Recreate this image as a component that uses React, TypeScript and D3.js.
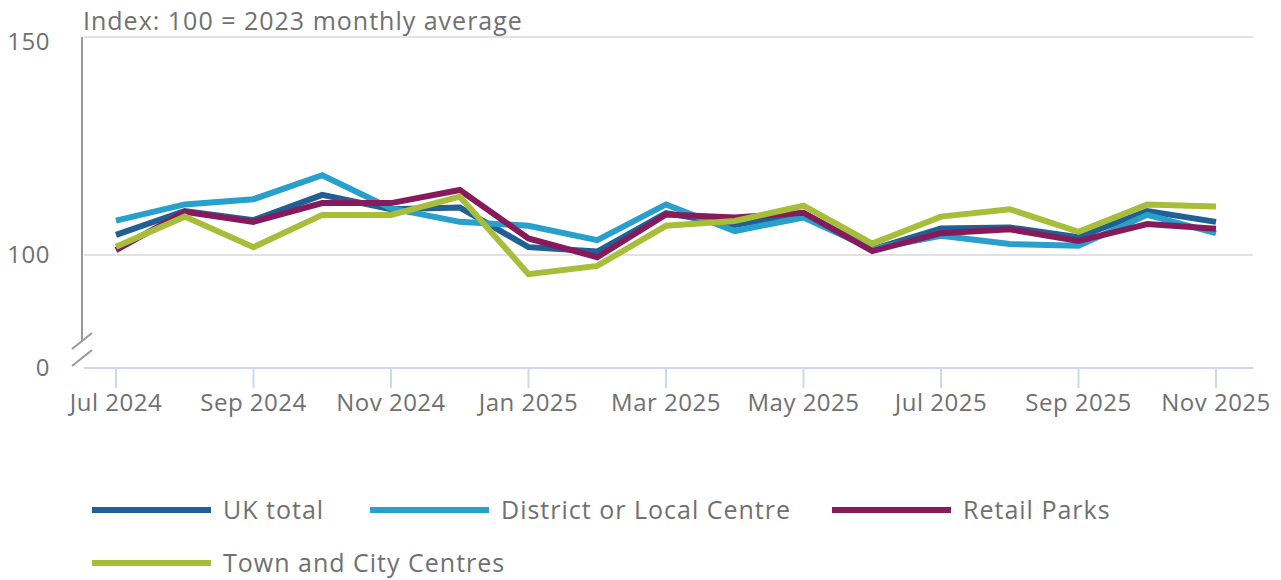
import React, { useEffect, useRef } from "react";
import * as d3 from "d3";

const months = [
  "Jul 2024", "Aug 2024", "Sep 2024", "Oct 2024", "Nov 2024", "Dec 2024",
  "Jan 2025", "Feb 2025", "Mar 2025", "Apr 2025", "May 2025", "Jun 2025",
  "Jul 2025", "Aug 2025", "Sep 2025", "Oct 2025", "Nov 2025",
];
const tickMonths = months.filter((_, i) => i % 2 === 0);

const ukTotal = [104.6, 110.1, 108.0, 113.8, 110.5, 110.9, 101.8, 100.8, 109.6, 106.9, 109.6, 101.3, 106.1, 106.3, 104.1, 110.1, 107.6];
const districtCentre = [107.9, 111.6, 112.8, 118.3, 110.7, 107.6, 106.7, 103.4, 111.6, 105.5, 108.6, 101.4, 104.4, 102.5, 102.1, 109.2, 105.0];
const retailParks = [101.1, 109.9, 107.6, 111.9, 111.9, 114.9, 103.8, 99.5, 109.3, 108.6, 109.7, 100.9, 105.0, 105.9, 103.2, 107.1, 106.0];
const townCentres = [101.9, 108.8, 101.8, 109.2, 109.2, 113.4, 95.6, 97.5, 106.7, 107.8, 111.3, 102.6, 108.8, 110.5, 105.3, 111.6, 111.1];

const seriesNames = ["UK total", "District or Local Centre", "Retail Parks", "Town and City Centres"];
const seriesColors = ["#206095", "#27a0cc", "#871a5b", "#a8bd3a"];
const gridTicks = [100, 150];

const W = 1273;
const H = 580;
const PAD = 8; // headroom so the title isn't clipped at the svg top
const FONT = "'Open Sans', sans-serif";
const TEXT = "#707070";

const App = () => {
  const ref = useRef<SVGSVGElement>(null);

  useEffect(() => {
    const root = d3.select(ref.current);
    root.selectAll("*").remove();
    const svg = root.append("g").attr("transform", `translate(0,${PAD})`);

    const data = [ukTotal, districtCentre, retailParks, townCentres];

    const x = d3.scalePoint().domain(months).range([108, 1208]);
    // data range 100-150; the axis is broken below 100 and 0 sits on the baseline
    const y = d3.scaleLinear().domain([100, 150]).range([247, 29]);
    const base = 360;

    const left = 74;
    const right = 1245;

    svg
      .selectAll(".grid")
      .data(gridTicks)
      .enter()
      .append("line")
      .attr("x1", left + 2)
      .attr("x2", right)
      .attr("y1", (d) => y(d))
      .attr("y2", (d) => y(d))
      .attr("stroke", "#e2e2e2")
      .attr("stroke-width", 2);

    // y axis line with break marks
    svg
      .append("line")
      .attr("x1", left)
      .attr("x2", left)
      .attr("y1", y(150))
      .attr("y2", 334)
      .attr("stroke", "#999")
      .attr("stroke-width", 2);
    [333, 350].forEach((cy) => {
      svg
        .append("line")
        .attr("x1", left - 10)
        .attr("x2", left + 10)
        .attr("y1", cy + 8)
        .attr("y2", cy - 8)
        .attr("stroke", "#999")
        .attr("stroke-width", 2);
    });

    // x axis
    svg
      .append("line")
      .attr("x1", left + 2)
      .attr("x2", right)
      .attr("y1", base)
      .attr("y2", base)
      .attr("stroke", "#cfd8ea")
      .attr("stroke-width", 2);
    svg
      .selectAll(".xtick")
      .data(tickMonths)
      .enter()
      .append("line")
      .attr("x1", (d) => x(d))
      .attr("x2", (d) => x(d))
      .attr("y1", base)
      .attr("y2", base + 20)
      .attr("stroke", "#cfd8ea")
      .attr("stroke-width", 2);
    svg
      .selectAll(".xlabel")
      .data(tickMonths)
      .enter()
      .append("text")
      .attr("x", (d) => x(d))
      .attr("y", base + 43)
      .attr("text-anchor", "middle")
      .attr("font-family", FONT)
      .attr("font-size", 24)
      .attr("letter-spacing", 0.5)
      .attr("fill", TEXT)
      .text((d) => d);

    // y labels
    const yLabels = [
      { v: "150", py: y(150) + 13 },
      { v: "100", py: y(100) + 8 },
      { v: "0", py: base + 8 },
    ];
    svg
      .selectAll(".ylabel")
      .data(yLabels)
      .enter()
      .append("text")
      .attr("x", 42)
      .attr("y", (d) => d.py)
      .attr("text-anchor", "end")
      .attr("font-family", FONT)
      .attr("font-size", 24)
      .attr("letter-spacing", 0.5)
      .attr("fill", TEXT)
      .text((d) => d.v);

    svg
      .append("text")
      .attr("x", left + 1)
      .attr("y", 22)
      .attr("font-family", FONT)
      .attr("font-size", 25)
      .attr("letter-spacing", 1.0)
      .attr("fill", TEXT)
      .text("Index: 100 = 2023 monthly average");

    const line = d3
      .line<number>()
      .x((_, i) => x(months[i]) as number)
      .y((d) => y(d));

    data.forEach((vals, i) => {
      svg
        .append("path")
        .datum(vals)
        .attr("d", line)
        .attr("fill", "none")
        .attr("stroke", seriesColors[i])
        .attr("stroke-width", 6)
        .attr("stroke-linejoin", "miter");
    });

    // legend
    const legendPos = [
      { x: 84, y: 502 },
      { x: 362, y: 502 },
      { x: 824, y: 502 },
      { x: 84, y: 555 },
    ];
    seriesNames.forEach((name, i) => {
      const p = legendPos[i];
      svg
        .append("line")
        .attr("x1", p.x)
        .attr("x2", p.x + 119)
        .attr("y1", p.y)
        .attr("y2", p.y)
        .attr("stroke", seriesColors[i])
        .attr("stroke-width", 6);
      svg
        .append("text")
        .attr("x", p.x + 131)
        .attr("y", p.y + 9)
        .attr("font-family", FONT)
        .attr("font-size", 25)
        .attr("letter-spacing", 1.0)
        .attr("fill", TEXT)
        .text(name);
    });
  }, []);

  return (
    <svg
      ref={ref}
      width={W}
      height={H}
      style={{ display: "block", marginTop: -PAD }}
    ></svg>
  );
};

export default App;
